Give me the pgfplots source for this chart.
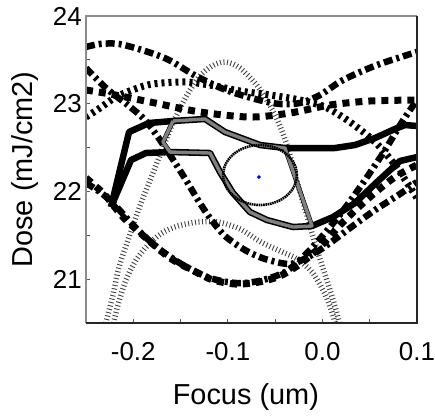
\documentclass[border=0pt]{standalone}
\usepackage{fontspec}
\setmainfont{Liberation Sans}
\usepackage{pgfplots}
\pgfplotsset{compat=1.18}

% line styles of the dose limits
\pgfplotsset{
  ddash/.style={black, line width=6.5bp, dash pattern=on 9bp off 4bp on 3bp off 4bp, smooth},
  sqdash/.style={black, line width=7bp, dash pattern=on 7bp off 6bp, smooth},
  tdot/.style={black, line width=7bp, dash pattern=on 3bp off 4bp, smooth},
  hatch/.style={black!75, line width=5.5bp, dash pattern=on 0.9bp off 2.6bp, smooth},
  limit/.style={black, line width=6.5bp, line join=round},
}

\begin{document}
\begin{tikzpicture}
\begin{axis}[
  name=ax, at={(0,0)}, anchor=south west,
  scale only axis, width=331bp, height=307bp,
  xmin=-0.25, xmax=0.1, ymin=20.5, ymax=24,
  xtick={-0.2,-0.1,0,0.1}, ytick={21,22,23,24},
  minor x tick num=1, minor y tick num=1,
  xtick pos=lower, ytick pos=left, tick align=inside,
  major tick length=4bp, minor tick length=4bp,
  tick style={black!65, line width=0.8bp},
  axis line style={draw=none},
  scaled x ticks=false, scaled y ticks=false,
  xticklabel={\pgfmathprintnumber[fixed,fixed zerofill,precision=1,assume math mode=true]{\tick}},
  yticklabel={\pgfmathprintnumber[fixed,precision=0,assume math mode=true]{\tick}},
  xticklabel style={anchor=base, inner sep=0pt, yshift=-37bp, font=\fontsize{26}{30}\selectfont},
  yticklabel style={anchor=east, inner sep=0pt, xshift=-4bp, font=\fontsize{26}{30}\selectfont},
  xlabel={Focus (um)}, ylabel={Dose (mJ/cm2)},
  every axis x label/.style={at={(axis description cs:0.483,-0.267)}, anchor=base, font=\fontsize{29}{34}\selectfont},
  every axis y label/.style={at={(axis description cs:-0.163,0.5)}, anchor=base, rotate=90, font=\fontsize{29}{34}\selectfont},
]

% hatched contours
\addplot[hatch] coordinates {
  (-0.2310,20.420) (-0.2215,20.819) (-0.2151,21.138) (-0.2045,21.480)
  (-0.1918,21.868) (-0.1792,22.210) (-0.1696,22.472) (-0.1580,22.780)
  (-0.1443,23.077) (-0.1305,23.305) (-0.1168,23.430) (-0.1030,23.476)
  (-0.0872,23.407) (-0.0671,23.179) (-0.0501,22.871) (-0.0375,22.529)
  (-0.0258,22.073) (-0.0174,21.765) (-0.0089,21.446) (-0.0005,21.161)
  (0.0080,20.876) (0.0144,20.648) (0.0196,20.420)};
\addplot[hatch] coordinates {
  (-0.2225,20.420) (-0.2162,20.705) (-0.2077,20.990) (-0.1971,21.218)
  (-0.1844,21.389) (-0.1696,21.526) (-0.1527,21.606) (-0.1316,21.651)
  (-0.1104,21.651) (-0.0872,21.572) (-0.0650,21.423) (-0.0449,21.321)
  (-0.0269,21.230) (-0.0110,21.081) (0.0017,20.853) (0.0101,20.625)
  (0.0154,20.420)};

% dash-dot limits
\addplot[ddash] coordinates {
  (-0.25,23.647) (-0.2352,23.681) (-0.2151,23.681) (-0.1876,23.601)
  (-0.1622,23.498) (-0.1337,23.316) (-0.1020,23.156) (-0.0671,23.042)
  (-0.0449,22.997) (-0.0237,23.008) (-0.0026,23.099) (0.0218,23.270)
  (0.0577,23.441) (0.10,23.590)};
\addplot[ddash] coordinates {
  (-0.25,23.407) (-0.2289,23.179) (-0.2045,22.974) (-0.1876,22.814)
  (-0.1739,22.620) (-0.1591,22.381) (-0.1443,22.130) (-0.1316,21.902)
  (-0.1189,21.697) (-0.1030,21.492) (-0.0819,21.332) (-0.0607,21.230)
  (-0.0343,21.173) (-0.0131,21.264) (0.0080,21.412) (0.0292,21.583)
  (0.0556,21.788) (0.0820,21.971) (0.10,22.107)};
\addplot[ddash] coordinates {
  (-0.25,22.096) (-0.2352,21.993) (-0.2215,21.868) (-0.1982,21.594)
  (-0.1739,21.355) (-0.1474,21.161) (-0.1189,21.013) (-0.0914,20.956)
  (-0.0671,20.979) (-0.0396,21.081) (-0.0184,21.275) (0.0027,21.526)
  (0.0239,21.811) (0.0450,22.130) (0.0662,22.472) (0.0841,22.791)
  (0.10,23.042)};

% dashed limits
\addplot[sqdash] coordinates {
  (-0.25,23.156) (-0.2246,23.111) (-0.1823,23.020) (-0.1295,22.906)
  (-0.0766,22.848) (-0.0343,22.894) (0.0080,22.985) (0.0503,23.031)
  (0.10,23.042)};
\addplot[sqdash] coordinates {
  (-0.25,22.153) (-0.2299,21.959) (-0.2109,21.708) (-0.1866,21.469)
  (-0.1612,21.241) (-0.1337,21.081) (-0.1157,20.990) (-0.0914,20.944)
  (-0.0671,20.967) (-0.0449,21.036) (-0.0237,21.173) (-0.0026,21.366)
  (0.0218,21.651) (0.0503,21.936) (0.0767,22.164) (0.10,22.301)};

% dotted limit
\addplot[tdot] coordinates {
  (-0.25,22.848) (-0.2352,22.951) (-0.2183,23.077) (-0.1982,23.168)
  (-0.1792,23.225) (-0.1443,23.248) (-0.1136,23.202) (-0.0872,23.145)
  (-0.0554,23.099) (-0.0237,23.042) (0.0027,22.963) (0.0292,22.791)
  (0.0556,22.563) (0.0767,22.301) (0.10,21.925)};

% solid dose limits
\addplot[limit] coordinates {
  (-0.2236,21.822) (-0.2045,22.677) (-0.1834,22.780) (-0.1580,22.803)
  (-0.1242,22.826) (-0.1030,22.677) (-0.0660,22.529) (-0.0396,22.495)
  (0.0133,22.495) (0.0344,22.529) (0.0556,22.609) (0.0767,22.712)
  (0.0873,22.757) (0.10,22.746)};
\addplot[limit] coordinates {
  (-0.2236,21.822) (-0.2024,22.358) (-0.1866,22.438) (-0.1612,22.449)
  (-0.1189,22.438) (-0.1083,22.221) (-0.0946,21.982) (-0.0766,21.765)
  (-0.0586,21.674) (-0.0311,21.594) (-0.0110,21.606) (0.0112,21.708)
  (0.0344,21.868) (0.0577,22.107) (0.0820,22.347) (0.10,22.392)};

% process window
\addplot[black, line width=4.6bp, line join=round] coordinates {
  (-0.1580,22.803) (-0.1242,22.826) (-0.1030,22.677) (-0.0660,22.529)
  (-0.0396,22.495) (-0.0110,21.606) (-0.0311,21.594) (-0.0586,21.674)
  (-0.0766,21.765) (-0.0946,21.982) (-0.1083,22.221) (-0.1189,22.438)
  (-0.1612,22.449) (-0.1686,22.563) (-0.1580,22.803)};
\addplot[black!50, line width=3.4bp, line join=round] coordinates {
  (-0.1580,22.803) (-0.1242,22.826) (-0.1030,22.677) (-0.0660,22.529)
  (-0.0396,22.495) (-0.0110,21.606) (-0.0311,21.594) (-0.0586,21.674)
  (-0.0766,21.765) (-0.0946,21.982) (-0.1083,22.221) (-0.1189,22.438)
  (-0.1612,22.449) (-0.1686,22.563) (-0.1580,22.803)};

% latitude ellipse and its centre
\addplot[black, line width=2.6bp, dash pattern=on 1.6bp off 0.7bp, smooth] coordinates {
  (-0.0270,22.187) (-0.0283,22.276) (-0.0322,22.358) (-0.0384,22.429)
  (-0.0465,22.483) (-0.0559,22.517) (-0.0660,22.529) (-0.0761,22.517)
  (-0.0855,22.483) (-0.0936,22.429) (-0.0998,22.358) (-0.1037,22.276)
  (-0.1050,22.187) (-0.1037,22.098) (-0.0998,22.016) (-0.0936,21.945)
  (-0.0855,21.891) (-0.0761,21.857) (-0.0660,21.845) (-0.0559,21.857)
  (-0.0465,21.891) (-0.0384,21.945) (-0.0322,22.016) (-0.0283,22.098)
  (-0.0270,22.187)};
\addplot[only marks, mark=*, mark size=1.7bp, blue] coordinates {(-0.0671,22.164)};
\end{axis}
% frame: light on the left and top, dark on the bottom and right
\draw[black!45, line width=1.5bp] (ax.south west) -- (ax.north west) -- (ax.north east);
\draw[black!85, line width=1.5bp] (ax.south west) -- (ax.south east) -- (ax.north east);
\pgfresetboundingbox
\path[use as bounding box] (-86bp,-93bp) rectangle (349bp,323bp);
\end{tikzpicture}
\end{document}
